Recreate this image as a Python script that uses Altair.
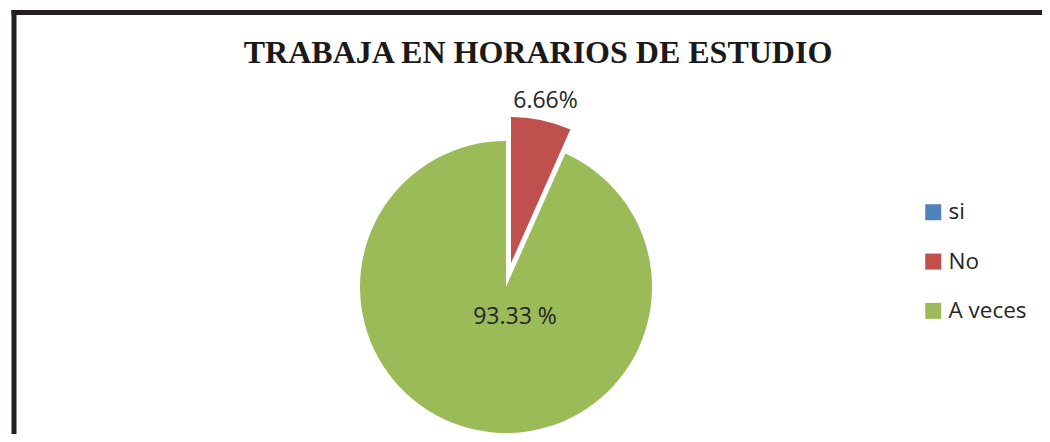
import altair as alt
import pandas as pd

title_text = "TRABAJA EN HORARIOS DE ESTUDIO"
categories = ["si", "No", "A veces"]
values = [0.0, 6.66, 93.33]
labels = ["", "6.66%", "93.33 %"]
order = [0, 1, 2]
colors = ["#4F81BD", "#C0504D", "#9BBB59"]

df = pd.DataFrame({"cat": categories, "value": values, "label": labels, "ord": order})
total = float(sum(values))

W, H = 1034, 426
FONT = "Open Sans"

base = alt.Chart(df).transform_stack(
    stack="value", groupby=[], as_=["v0", "v1"], sort=[alt.SortField("ord", order="ascending")]
).transform_calculate(vm="(datum.v0 + datum.v1) / 2")

theta_scale = alt.Scale(domain=[0, total], nice=False, zero=True)
color_enc = alt.Color(
    "cat:N",
    scale=alt.Scale(domain=categories, range=colors),
    sort=categories,
    legend=alt.Legend(
        title=None, orient="none", legendX=914, legendY=193,
        symbolType="square", symbolSize=256, symbolStrokeWidth=0,
        labelFont=FONT, labelFontSize=22.5, labelColor="#262626",
        rowPadding=26.3, labelOffset=4, padding=0,
    ),
)

green = base.transform_filter("datum.cat == 'A veces'").mark_arc(radius=146).encode(
    theta=alt.Theta("v0:Q", scale=theta_scale, stack=None),
    theta2="v1:Q",
    color=color_enc,
    x=alt.value(498), y=alt.value(279),
)
red = base.transform_filter("datum.cat == 'No'").mark_arc(radius=146).encode(
    theta=alt.Theta("v0:Q", scale=theta_scale, stack=None),
    theta2="v1:Q",
    color=color_enc,
    x=alt.value(503), y=alt.value(255),
)
legend_dummy = base.mark_arc(radius=0, opacity=0).encode(
    theta=alt.Theta("v0:Q", scale=theta_scale, stack=None), theta2="v1:Q", color=color_enc,
    x=alt.value(498), y=alt.value(279),
)

red_label = base.transform_filter("datum.cat == 'No'").mark_text(
    radius=166, font=FONT, fontSize=23, color="#262626", align="center", baseline="middle"
).encode(
    theta=alt.Theta("vm:Q", scale=theta_scale, stack=None), text="label:N",
    x=alt.value(503), y=alt.value(255),
)
green_label = base.transform_filter("datum.cat == 'A veces'").mark_text(
    font=FONT, fontSize=23, color="#262626", align="center", baseline="middle"
).encode(text="label:N", x=alt.value(507), y=alt.value(309))

tdf = pd.DataFrame({"t": [title_text]})
title = alt.Chart(tdf).mark_text(
    font="Liberation Serif", fontSize=32, fontWeight="bold", color="#1a1a1a",
    align="center", baseline="alphabetic"
).encode(text="t:N", x=alt.value(530), y=alt.value(55))

top_rule = alt.Chart(tdf).mark_rule(color="#231f20", strokeWidth=5).encode(
    x=alt.value(3.5), x2=alt.value(W), y=alt.value(4.5)
)
left_rule = alt.Chart(tdf).mark_rule(color="#231f20", strokeWidth=5).encode(
    x=alt.value(6), y=alt.value(2), y2=alt.value(H)
)

chart = alt.layer(
    green, red, legend_dummy, red_label, green_label, title, top_rule, left_rule
).properties(
    width=W, height=H, padding=0, autosize=alt.AutoSizeParams(type="none"),
    background="white",
).configure_view(stroke=None)

chart.save("out.html", embed_options={"renderer": "svg", "actions": False})
